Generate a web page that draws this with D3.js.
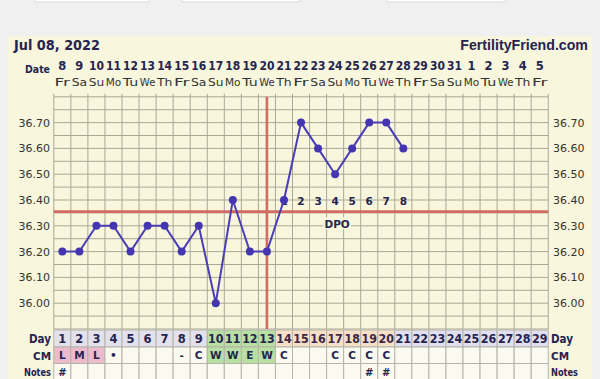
<!DOCTYPE html>
<html><head><meta charset="utf-8">
<script src="https://cdn.jsdelivr.net/npm/d3@7"></script>
<style>html,body{margin:0;padding:0;background:#f0f0f0;}svg{display:block;}</style>
</head><body>
<script>
const titleDate = "Jul 08, 2022";
const siteName = "FertilityFriend.com";
const dates = ["8","9","10","11","12","13","14","15","16","17","18","19","20","21","22","23","24","25","26","27","28","29","30","31","1","2","3","4","5"];
const weekdays = ["Fr","Sa","Su","Mo","Tu","We","Th","Fr","Sa","Su","Mo","Tu","We","Th","Fr","Sa","Su","Mo","Tu","We","Th","Fr","Sa","Su","Mo","Tu","We","Th","Fr"];
const cycleDays = d3.range(1, 30);
const temps = [36.20,36.20,36.30,36.30,36.20,36.30,36.30,36.20,36.30,36.00,36.40,36.20,36.20,36.40,36.70,36.60,36.50,36.60,36.70,36.70,36.60];
const yTicks = [36.00,36.10,36.20,36.30,36.40,36.50,36.60,36.70];
const coverline = 36.355;
const ovulationDay = 13;
const dpoLabels = ["1","2","3","4","5","6","7","8"];
const dpoStartDay = 14;
const cm = ["L","M","L","•","","","","-","C","W","W","E","W","C","","","C","C","C","C","","","","","","","","",""];
const notes = ["#","","","","","","","","","","","","","","","","","","#","#","","","","","","","","",""];
// day-cell phase: 0 pre, 1 fertile, 2 post-ovulation, 3 future
const dayPhase = [0,0,0,0,0,0,0,0,0,1,1,1,1,2,2,2,2,2,2,2,3,3,3,3,3,3,3,3,3];
const cmPhase  = [4,4,4,5,5,5,5,5,5,1,1,1,1,5,5,5,5,5,5,5,5,5,5,5,5,5,5,5,5];

const W = 600, H = 379;
const svg = d3.select("body").append("svg").attr("width", W).attr("height", H);
const ink = "#25244f";
const font = "DejaVu Sans, Verdana, sans-serif";

// top UI stubs
[[34,150],[181,300],[386,506]].forEach(([a,b]) => {
  svg.append("rect").attr("x",a).attr("y",-6).attr("width",b-a).attr("height",8).attr("rx",3)
    .attr("fill","#ffffff").attr("stroke","#d8d8d8");
});

// panel
svg.append("rect").attr("x",8).attr("y",36).attr("width",584).attr("height",350).attr("fill","#f8f6dc");

const x0 = 53.8, colW = 17.05;
const x = d3.scaleBand().domain(cycleDays).range([x0, x0 + colW*29]).padding(0);
const cx = d => x(d) + x.bandwidth()/2;
const y = d3.scaleLinear().domain([35.90, 36.80]).range([329, 96.8]);

svg.append("text").attr("x",14).attr("y",50).text(titleDate)
  .attr("font-family",font).attr("font-weight","bold").attr("font-size",14).attr("fill",ink)
  .attr("textLength",86).attr("lengthAdjust","spacingAndGlyphs");
svg.append("text").attr("x",588).attr("y",50).attr("text-anchor","end").text(siteName)
  .attr("font-family","Liberation Sans, Arial, sans-serif").attr("font-weight","bold").attr("font-size",14.2).attr("fill",ink);

// date header
svg.append("text").attr("x",50).attr("y",73).attr("text-anchor","end").text("Date")
  .attr("font-family",font).attr("font-weight","bold").attr("font-size",11).attr("fill",ink)
  .attr("textLength",25).attr("lengthAdjust","spacingAndGlyphs");
svg.selectAll(".dt").data(cycleDays).enter().append("text")
  .attr("x",d=>cx(d)).attr("y",70).attr("text-anchor","middle").text((d,i)=>dates[i])
  .attr("font-family",font).attr("font-weight","bold").attr("font-size",11.5).attr("fill",ink)
  .attr("textLength",(d,i)=>dates[i].length>1?15:null).attr("lengthAdjust","spacingAndGlyphs");
svg.selectAll(".wd").data(cycleDays).enter().append("text")
  .attr("x",d=>cx(d)).attr("y",86).attr("text-anchor","middle").text((d,i)=>weekdays[i])
  .attr("font-family",font).attr("font-size",11).attr("fill","#333")
  .attr("textLength",15.5).attr("lengthAdjust","spacingAndGlyphs");

// grid
const g = svg.append("g");
const hLines = d3.range(35.90, 36.801, 0.05);
g.selectAll(".hl").data(hLines).enter().append("line")
  .attr("x1",x0).attr("x2",x0+colW*29).attr("y1",d=>y(d)).attr("y2",d=>y(d))
  .attr("stroke","#a9a898").attr("stroke-width",1);
g.selectAll(".vl").data(d3.range(0,30)).enter().append("line")
  .attr("x1",i=>x0+i*colW).attr("x2",i=>x0+i*colW).attr("y1",y(36.80)).attr("y2",y(35.90))
  .attr("stroke","#a9a898").attr("stroke-width",1);
g.selectAll(".tk").data(d3.range(0,30)).enter().append("line")
  .attr("x1",i=>x0+i*colW).attr("x2",i=>x0+i*colW).attr("y1",y(36.80)-3).attr("y2",y(36.80))
  .attr("stroke","#a9a898");

// y labels
[[50,"end"],[553,"start"]].forEach(([xx,anc]) => {
  svg.selectAll(null).data(yTicks).enter().append("text")
    .attr("x",xx).attr("y",d=>y(d)+4).attr("text-anchor",anc).text(d=>d.toFixed(2))
    .attr("font-family",font).attr("font-size",11).attr("fill","#333");
});

// coverline + ovulation
svg.append("line").attr("x1",x0).attr("x2",x0+colW*29).attr("y1",y(coverline)).attr("y2",y(coverline))
  .attr("stroke","#d46a62").attr("stroke-width",2.6);
svg.append("line").attr("x1",cx(ovulationDay)).attr("x2",cx(ovulationDay)).attr("y1",y(36.80)).attr("y2",y(35.90))
  .attr("stroke","#d46a62").attr("stroke-width",2.6);

// DPO label
const dpoX = cx(17) + 2;
svg.append("rect").attr("x",dpoX-14).attr("y",y(36.31)-6).attr("width",28).attr("height",12).attr("fill","#f8f6dc");
svg.append("text").attr("x",dpoX).attr("y",y(36.31)+4.5).attr("text-anchor","middle").text("DPO")
  .attr("font-family",font).attr("font-weight","bold").attr("font-size",10.5).attr("fill",ink);
svg.selectAll(".dpo").data(dpoLabels).enter().append("text")
  .attr("x",(d,i)=>cx(dpoStartDay+i)).attr("y",y(36.395)+4).attr("text-anchor","middle").text(d=>d)
  .attr("font-family",font).attr("font-weight","bold").attr("font-size",10.5).attr("fill",ink);

// temperature line
const line = d3.line().x((d,i)=>cx(i+1)).y(d=>y(d));
svg.append("path").datum(temps).attr("d",line).attr("fill","none").attr("stroke","#4b3db6").attr("stroke-width",2);
svg.selectAll(".pt").data(temps).enter().append("circle")
  .attr("cx",(d,i)=>cx(i+1)).attr("cy",d=>y(d)).attr("r",4).attr("fill","#4436b0");

// table
const dayFill = ["#e3e1ec","#b7e0a2","#f6e0c8","#e1e0f0"];
const cmFill = {1:"#b7e0a2",4:"#ebbacd",5:"#fbfaf0"};
const rowY = [330, 347, 363.5], rowH = [17, 16.5, 16.5];
const tg = svg.append("g");
tg.selectAll(".dc").data(cycleDays).enter().append("rect")
  .attr("x",d=>x(d)).attr("y",rowY[0]).attr("width",x.bandwidth()).attr("height",rowH[0])
  .attr("fill",(d,i)=>dayFill[dayPhase[i]]).attr("stroke","#b5b4a8");
tg.selectAll(".cc").data(cycleDays).enter().append("rect")
  .attr("x",d=>x(d)).attr("y",rowY[1]).attr("width",x.bandwidth()).attr("height",rowH[1])
  .attr("fill",(d,i)=>cmFill[cmPhase[i]]).attr("stroke","#b5b4a8");
tg.selectAll(".nc").data(cycleDays).enter().append("rect")
  .attr("x",d=>x(d)).attr("y",rowY[2]).attr("width",x.bandwidth()).attr("height",rowH[2]+4)
  .attr("fill","#fbfaf0").attr("stroke","#b5b4a8");
tg.selectAll(".dn").data(cycleDays).enter().append("text")
  .attr("x",d=>cx(d)).attr("y",rowY[0]+13).attr("text-anchor","middle").text(d=>d)
  .attr("font-family",font).attr("font-weight","bold").attr("font-size",11.5)
  .attr("fill",(d,i)=>dayPhase[i]===2?"#3f2646":ink)
  .attr("textLength",d=>d>9?15.5:null).attr("lengthAdjust","spacingAndGlyphs");
tg.selectAll(".cm").data(cycleDays).enter().append("text")
  .attr("x",d=>cx(d)).attr("y",rowY[1]+12).attr("text-anchor","middle").text((d,i)=>cm[i])
  .attr("font-family",font).attr("font-weight","bold").attr("font-size",10.5).attr("fill",ink);
tg.selectAll(".nt").data(cycleDays).enter().append("text")
  .attr("x",d=>cx(d)).attr("y",rowY[2]+12).attr("text-anchor","middle").text((d,i)=>notes[i])
  .attr("font-family",font).attr("font-weight","bold").attr("font-size",10).attr("fill",ink);

const rowLabels = ["Day","CM","Notes"];
const lblSize = [12,10,10.5];
const lblLen = [22,18,27];
rowLabels.forEach((t,i) => {
  svg.append("text").attr("x",51).attr("y",rowY[i]+12.5).attr("text-anchor","end").text(t)
    .attr("font-family",font).attr("font-weight","bold").attr("font-size",lblSize[i]).attr("fill",ink)
    .attr("textLength",lblLen[i]).attr("lengthAdjust","spacingAndGlyphs");
  svg.append("text").attr("x",551).attr("y",rowY[i]+12.5).attr("text-anchor","start").text(t)
    .attr("font-family",font).attr("font-weight","bold").attr("font-size",lblSize[i]).attr("fill",ink)
    .attr("textLength",lblLen[i]).attr("lengthAdjust","spacingAndGlyphs");
});
</script>
</body></html>
